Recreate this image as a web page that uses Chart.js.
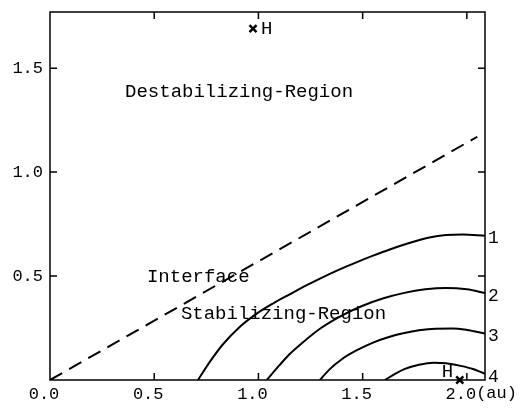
<!DOCTYPE html>
<html>
<head>
<meta charset="utf-8">
<script src="https://cdn.jsdelivr.net/npm/chart.js@4.4.0/dist/chart.umd.min.js"></script>
<style>
  body { margin: 0; background: #fff; }
  #wrap { width: 521px; height: 409px; }
</style>
</head>
<body>
<div id="wrap"><canvas id="chart" width="521" height="409"></canvas></div>
<script>
// values
const xTicks = [0, 0.5, 1.0, 1.5, 2.0];
const yTicks = [0.5, 1.0, 1.5];

const interfaceX = [0, 2.05];
const interfaceY = [0, 1.17];

const curve1X = [0.71, 0.77, 0.83, 0.91, 0.99, 1.07, 1.15, 1.23, 1.31, 1.39, 1.47, 1.55, 1.63, 1.74, 1.82, 1.90, 1.98, 2.087];
const curve1Y = [0, 0.092, 0.172, 0.255, 0.318, 0.368, 0.412, 0.455, 0.495, 0.532, 0.566, 0.598, 0.628, 0.664, 0.685, 0.697, 0.70, 0.694];

const curve2X = [1.04, 1.10, 1.15, 1.20, 1.30, 1.40, 1.50, 1.60, 1.70, 1.80, 1.90, 2.00, 2.087];
const curve2Y = [0, 0.07, 0.125, 0.17, 0.25, 0.31, 0.357, 0.393, 0.419, 0.436, 0.443, 0.436, 0.418];

const curve3X = [1.295, 1.34, 1.40, 1.47, 1.55, 1.63, 1.70, 1.77, 1.85, 1.93, 2.00, 2.087];
const curve3Y = [0, 0.05, 0.10, 0.142, 0.18, 0.208, 0.226, 0.239, 0.247, 0.248, 0.241, 0.224];

const curve4X = [1.607, 1.66, 1.70, 1.77, 1.84, 1.90, 1.97, 2.03, 2.087];
const curve4Y = [0, 0.032, 0.052, 0.073, 0.083, 0.08, 0.068, 0.053, 0.03];

const curveNames = ['1', '2', '3', '4'];

const markerX = [0.974, 1.966];
const markerY = [1.69, 0];

const textLabels = [
    { text: 'Destabilizing-Region', x: 0.36, y: 1.385 },
    { text: 'Interface', x: 0.465, y: 0.495 },
    { text: 'Stabilizing-Region', x: 0.628, y: 0.317 },
    { text: 'H', x: 1.012, y: 1.69 },
    { text: 'H', x: 1.88, y: 0.04 }
];

function pts(xs, ys) {
    return xs.map(function (x, i) { return { x: x, y: ys[i] }; });
}

const font = 'Liberation Mono';

function curveSet(xs, ys, name) {
    return {
        label: name,
        data: pts(xs, ys),
        borderColor: '#000',
        borderWidth: 2,
        pointRadius: 0,
        cubicInterpolationMode: 'monotone',
        fill: false
    };
}

// frame, inward ticks and text
const decorPlugin = {
    id: 'decor',
    afterDraw: function (chart) {
        const ctx = chart.ctx;
        const a = chart.chartArea;
        const xs = chart.scales.x;
        const ys = chart.scales.y;
        ctx.save();
        ctx.strokeStyle = '#000';
        ctx.lineWidth = 1.5;
        ctx.strokeRect(a.left, a.top, a.right - a.left, a.bottom - a.top);

        const len = 7;
        ctx.beginPath();
        xTicks.forEach(function (v) {
            if (v === 0) return;
            const px = xs.getPixelForValue(v);
            ctx.moveTo(px, a.bottom); ctx.lineTo(px, a.bottom - len);
            ctx.moveTo(px, a.top); ctx.lineTo(px, a.top + len);
        });
        yTicks.forEach(function (v) {
            const py = ys.getPixelForValue(v);
            ctx.moveTo(a.left, py); ctx.lineTo(a.left + len, py);
            ctx.moveTo(a.right, py); ctx.lineTo(a.right - len, py);
        });
        ctx.stroke();

        ctx.fillStyle = '#000';
        ctx.textBaseline = 'middle';
        ctx.textAlign = 'left';
        ctx.font = '19px "' + font + '"';
        textLabels.forEach(function (t) {
            ctx.fillText(t.text, xs.getPixelForValue(t.x), ys.getPixelForValue(t.y));
        });

        // curve numbers at the right edge
        ctx.font = '18px "' + font + '"';
        const ends = [curve1Y, curve2Y, curve3Y, curve4Y];
        ends.forEach(function (arr, i) {
            const py = ys.getPixelForValue(arr[arr.length - 1]) + 3;
            ctx.fillText(curveNames[i], a.right + 3, py);
        });

        // unit after the last x label
        ctx.font = '17px "' + font + '"';
        const lastPx = xs.getPixelForValue(2.0) - 6 + ctx.measureText('2.0').width / 2;
        ctx.fillText('(au)', lastPx, a.bottom + 13);
        ctx.restore();
    }
};

new Chart(document.getElementById('chart'), {
    type: 'line',
    data: {
        datasets: [
            {
                label: 'Interface',
                data: pts(interfaceX, interfaceY),
                borderColor: '#000',
                borderWidth: 2,
                borderDash: [14, 8],
                pointRadius: 0,
                fill: false
            },
            curveSet(curve1X, curve1Y, '1'),
            curveSet(curve2X, curve2Y, '2'),
            curveSet(curve3X, curve3Y, '3'),
            curveSet(curve4X, curve4Y, '4'),
            {
                label: 'H',
                type: 'scatter',
                data: pts(markerX, markerY),
                pointStyle: 'crossRot',
                pointRadius: 5,
                borderColor: '#000',
                borderWidth: 2.5,
                clip: false
            }
        ]
    },
    options: {
        responsive: false,
        animation: false,
        devicePixelRatio: 1,
        layout: { padding: { top: 12, right: 36, left: 0, bottom: 0 } },
        plugins: {
            legend: { display: false },
            tooltip: { enabled: false }
        },
        scales: {
            x: {
                type: 'linear',
                min: 0,
                max: 2.087,
                grid: { display: false, drawTicks: false },
                border: { display: false },
                afterBuildTicks: function (s) { s.ticks = xTicks.map(function (v) { return { value: v }; }); },
                afterFit: function (s) { s.height = 29; s.paddingLeft = 0; s.paddingRight = 0; },
                ticks: {
                    color: '#000',
                    padding: 4,
                    labelOffset: -6,
                    maxRotation: 0,
                    font: { family: font, size: 17 },
                    callback: function (v) { return v.toFixed(1); }
                }
            },
            y: {
                type: 'linear',
                min: 0,
                max: 1.77,
                grid: { display: false, drawTicks: false },
                border: { display: false },
                afterBuildTicks: function (s) { s.ticks = yTicks.map(function (v) { return { value: v }; }); },
                afterFit: function (s) { s.width = 50; s.paddingTop = 0; s.paddingBottom = 0; },
                ticks: {
                    color: '#000',
                    padding: 7,
                    font: { family: font, size: 17 },
                    callback: function (v) { return v.toFixed(1); }
                }
            }
        }
    },
    plugins: [decorPlugin]
});
</script>
</body>
</html>
